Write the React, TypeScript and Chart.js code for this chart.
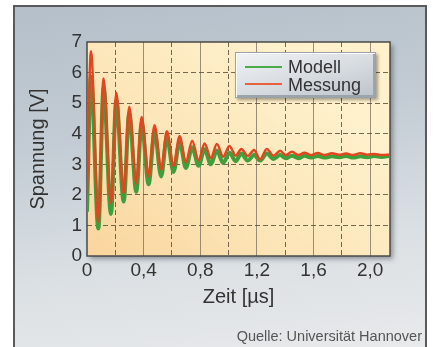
import React, { useEffect, useRef } from 'react';
import { Chart, registerables } from 'chart.js';

Chart.register(...registerables);

// Time in microseconds (peaks / troughs and tail samples)
const timeUs = [
  0.0, 0.028, 0.08, 0.117, 0.169, 0.207, 0.259, 0.298, 0.348, 0.386, 0.435, 0.477,
  0.524, 0.564, 0.611, 0.654, 0.698, 0.743, 0.788, 0.83, 0.875, 0.917, 0.962, 1.006,
  1.05, 1.09, 1.135, 1.18, 1.222, 1.27, 1.317, 1.364, 1.405, 1.447, 1.494, 1.536,
  1.58, 1.63, 1.68, 1.73, 1.78, 1.83, 1.88, 1.93, 1.98, 2.03, 2.08, 2.14,
];

// Voltage [V] – simulation
const modell = [
  1.45, 5.86, 0.9, 5.5, 1.37, 5.1, 1.78, 4.66, 2.1, 4.34, 2.35, 4.06,
  2.6, 3.9, 2.75, 3.74, 2.88, 3.55, 2.95, 3.49, 3.0, 3.45, 3.04, 3.38,
  3.1, 3.35, 3.12, 3.3, 3.12, 3.35, 3.17, 3.3, 3.2, 3.28, 3.2, 3.28,
  3.22, 3.27, 3.22, 3.26, 3.23, 3.27, 3.22, 3.26, 3.23, 3.27, 3.24, 3.28,
];

// Voltage [V] – measurement
const messung = [
  2.0, 6.7, 1.12, 5.81, 1.72, 5.34, 2.05, 4.88, 2.37, 4.55, 2.59, 4.28,
  2.82, 4.08, 2.95, 3.92, 3.07, 3.77, 3.12, 3.68, 3.2, 3.66, 3.25, 3.6,
  3.28, 3.5, 3.27, 3.47, 3.15, 3.5, 3.28, 3.44, 3.3, 3.41, 3.3, 3.38,
  3.3, 3.37, 3.3, 3.36, 3.31, 3.35, 3.3, 3.36, 3.31, 3.34, 3.3, 3.32,
];

const seriesLabels = ['Modell', 'Messung'];
const seriesColors = ['#3f9f3c', '#e2461f'];
const legendColors = ['#4aab48', '#e8603c'];

const yAxisTitle = 'Spannung [V]';
const xAxisTitle = 'Zeit [µs]';
const sourceText = 'Quelle: Universität Hannover';

const FONT = '"Liberation Sans", Arial, Helvetica, sans-serif';
const TEXT = '#333333';
const GRID = 'rgba(95, 80, 60, 0.85)';
const GRID_SOLID = 'rgba(120, 110, 95, 0.75)';

const isMajor = (v: number) => Math.abs(v / 0.4 - Math.round(v / 0.4)) < 1e-6;
const fmtX = (v: number) => (Math.abs(v) < 1e-9 ? '0' : v.toFixed(1).replace('.', ','));

const plotDecor = {
  id: 'plotDecor',
  beforeDraw(chart: any) {
    const { ctx, chartArea: a } = chart;
    ctx.save();
    const g = ctx.createLinearGradient(a.left, a.bottom, a.left + (a.right - a.left) * 0.6, a.top);
    g.addColorStop(0, '#f9d59c');
    g.addColorStop(0.45, '#fce4b6');
    g.addColorStop(1, '#fef1cc');
    ctx.shadowColor = 'rgba(40, 50, 60, 0.45)';
    ctx.shadowBlur = 5;
    ctx.shadowOffsetX = 3;
    ctx.shadowOffsetY = 3;
    ctx.fillStyle = g;
    ctx.fillRect(a.left, a.top, a.right - a.left, a.bottom - a.top);
    ctx.restore();
  },
  beforeDatasetsDraw(chart: any) {
    const { ctx, chartArea: a } = chart;
    ctx.save();
    ctx.strokeStyle = '#4a4a4a';
    ctx.lineWidth = 1.5;
    ctx.strokeRect(a.left, a.top, a.right - a.left, a.bottom - a.top);
    ctx.restore();
  },
};

export default function App() {
  const canvasRef = useRef<HTMLCanvasElement | null>(null);

  useEffect(() => {
    if (!canvasRef.current) return;
    const chart = new Chart(canvasRef.current, {
      type: 'line',
      data: {
        datasets: [
          {
            label: seriesLabels[0],
            data: timeUs.map((t, i) => ({ x: t, y: modell[i] })),
            borderColor: seriesColors[0],
            borderWidth: 4,
            pointRadius: 0,
            cubicInterpolationMode: 'monotone',
            order: 1,
          },
          {
            label: seriesLabels[1],
            data: timeUs.map((t, i) => ({ x: t, y: messung[i] })),
            borderColor: seriesColors[1],
            borderWidth: 2.5,
            pointRadius: 0,
            cubicInterpolationMode: 'monotone',
            order: 0,
          },
        ],
      },
      options: {
        animation: false,
        responsive: false,
        devicePixelRatio: 1,
        layout: { padding: { left: 14, top: 42, right: 43, bottom: 31 } },
        plugins: { legend: { display: false }, tooltip: { enabled: false } },
        scales: {
          x: {
            type: 'linear',
            min: 0,
            max: 2.14,
            afterFit: (s: any) => { s.height = 60; },
            ticks: {
              stepSize: 0.2,
              includeBounds: false,
              autoSkip: false,
              maxRotation: 0,
              padding: 3,
              color: TEXT,
              font: { family: FONT, size: 19 },
              callback: (v: any) => (isMajor(Number(v)) ? fmtX(Number(v)) : ''),
            },
            grid: {
              drawTicks: false,
              lineWidth: 1,
              color: (c: any) => {
                const v = c.tick ? c.tick.value : 0;
                if (Math.abs(v) < 1e-9) return 'transparent';
                return isMajor(v) ? GRID_SOLID : GRID;
              },
            },
            border: {
              display: false,
              dash: (c: any) => (c.tick && isMajor(c.tick.value) ? [] : [5, 3]),
            },
            title: {
              display: true,
              text: xAxisTitle,
              color: TEXT,
              font: { family: FONT, size: 20 },
              padding: { top: 0, bottom: 7 },
            },
          },
          y: {
            type: 'linear',
            min: 0,
            max: 7,
            afterFit: (s: any) => { s.width = 73; },
            ticks: {
              stepSize: 1,
              padding: 5,
              color: TEXT,
              font: { family: FONT, size: 19 },
            },
            grid: {
              drawTicks: false,
              lineWidth: 1,
              color: (c: any) => {
                const v = c.tick ? c.tick.value : 0;
                return v <= 0 || v >= 7 ? 'transparent' : GRID;
              },
            },
            border: { display: false, dash: [5, 3] },
            title: {
              display: true,
              text: yAxisTitle,
              color: TEXT,
              font: { family: FONT, size: 20 },
              padding: { top: 12, bottom: 0 },
            },
          },
        },
      },
      plugins: [plotDecor],
    } as any);
    return () => chart.destroy();
  }, []);

  return (
    <div style={{ position: 'absolute', left: 0, top: 0, width: 433, height: 347, overflow: 'hidden', fontFamily: FONT }}>
      <div
        style={{
          position: 'absolute', left: 13, top: 5, width: 414, height: 360, boxSizing: 'border-box',
          border: '2px solid #5a5a5a',
          background: 'linear-gradient(172deg, #b4bfc9 0%, #c3ccd4 35%, #dbe0e4 68%, #eaebec 100%)',
        }}
      />
      <canvas ref={canvasRef} width={433} height={347} style={{ position: 'absolute', left: 0, top: 0 }} />
      <div
        style={{
          position: 'absolute', left: 235, top: 52, width: 141, height: 46, boxSizing: 'border-box',
          background: 'linear-gradient(165deg, #f1f3f5 0%, #d6dbe0 55%, #bcc3ca 100%)',
          border: '1px solid #9aa2aa',
          boxShadow: '2px 2px 3px rgba(0,0,0,0.35), inset 1px 1px 0 #ffffff, inset -2px -2px 0 #9ba3ab',
        }}
      >
        {seriesLabels.map((lab, i) => (
          <React.Fragment key={lab}>
            <div style={{ position: 'absolute', left: 9, top: 13 + i * 16.5, width: 37, height: 2, background: legendColors[i] }} />
            <div style={{ position: 'absolute', left: 52, top: 5 + i * 17.5, fontSize: 18, lineHeight: '18px', color: TEXT, whiteSpace: 'nowrap' }}>{lab}</div>
          </React.Fragment>
        ))}
      </div>
      <div style={{ position: 'absolute', right: 11, top: 329, fontSize: 14.5, lineHeight: '15px', color: '#555', whiteSpace: 'nowrap' }}>
        {sourceText}
      </div>
    </div>
  );
}
